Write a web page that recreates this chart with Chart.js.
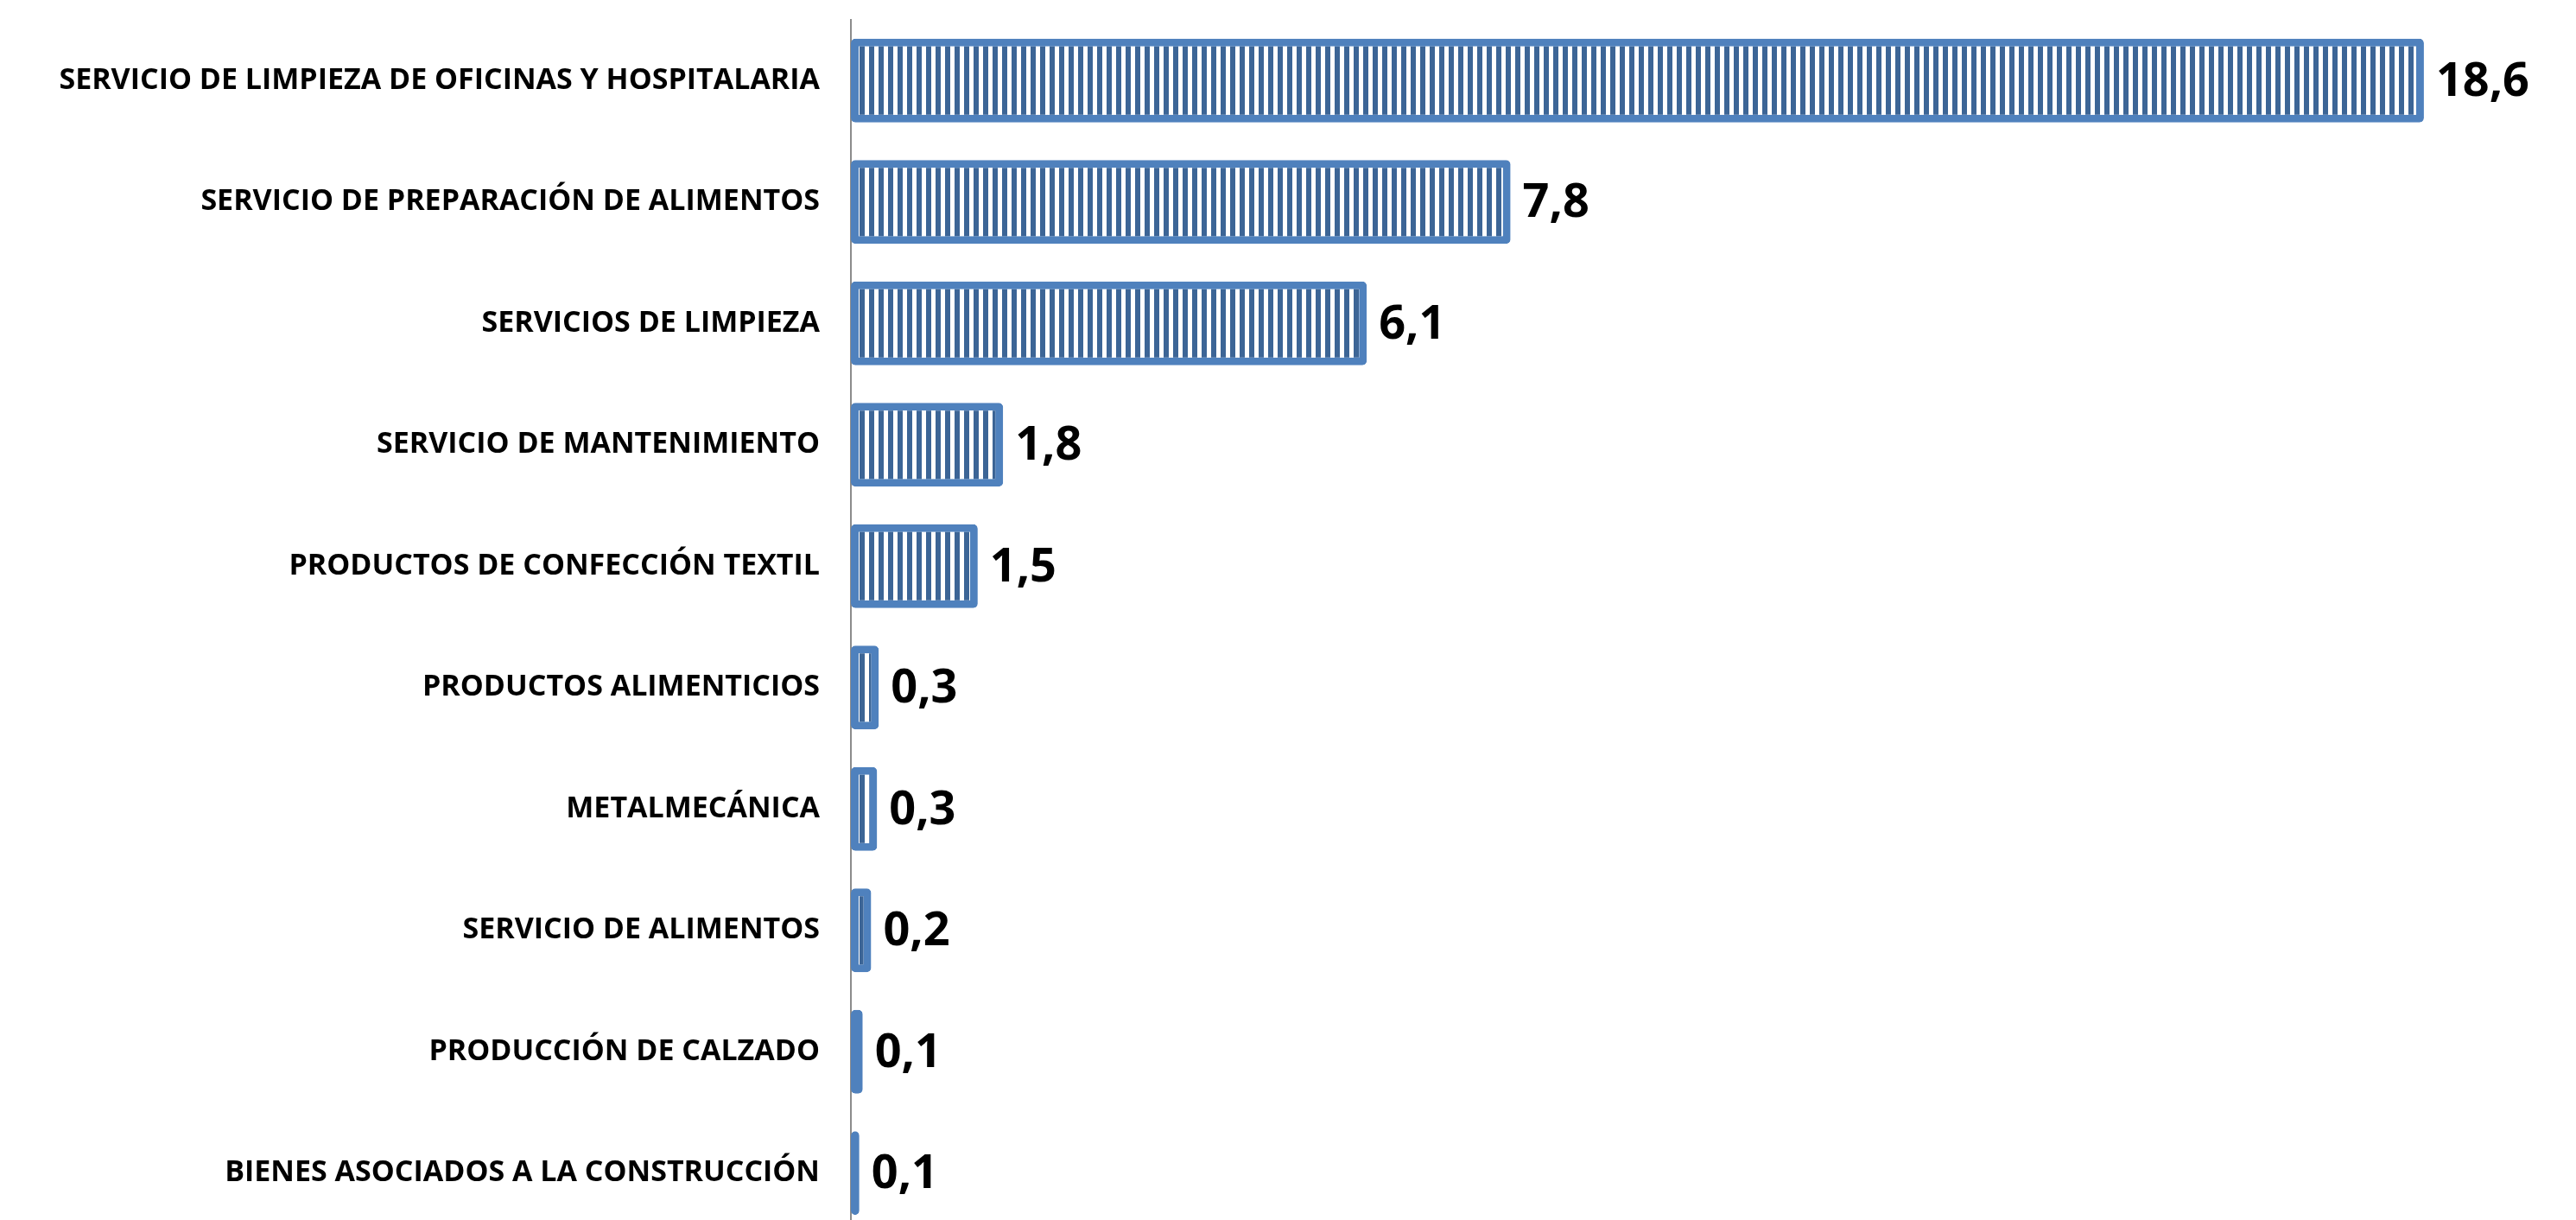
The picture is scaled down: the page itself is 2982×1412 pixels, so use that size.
<!DOCTYPE html>
<html>
<head>
<meta charset="utf-8">
<script src="https://cdn.jsdelivr.net/npm/chart.js@4/dist/chart.umd.min.js"></script>
<style>
  html, body { margin: 0; padding: 0; background: #fff; overflow: hidden; }
  #wrap { width: 2982px; height: 1428px; position: relative; }
</style>
</head>
<body>
<div id="wrap"><canvas id="chart"></canvas></div>
<script>
// --- Data ---
const categories = [
    'SERVICIO DE LIMPIEZA DE OFICINAS Y HOSPITALARIA',
    'SERVICIO DE PREPARACIÓN DE ALIMENTOS',
    'SERVICIOS DE LIMPIEZA',
    'SERVICIO DE MANTENIMIENTO',
    'PRODUCTOS DE CONFECCIÓN TEXTIL',
    'PRODUCTOS ALIMENTICIOS',
    'METALMECÁNICA',
    'SERVICIO DE ALIMENTOS',
    'PRODUCCIÓN DE CALZADO',
    'BIENES ASOCIADOS A LA CONSTRUCCIÓN'
];
// bar lengths (shown rounded to one decimal)
const values = [18.6, 7.8, 6.1, 1.8, 1.5, 0.33, 0.31, 0.24, 0.14, 0.1];
const valueTexts = ['18,6', '7,8', '6,1', '1,8', '1,5', '0,3', '0,3', '0,2', '0,1', '0,1'];

const labelFont = '"Open Sans", sans-serif';

// --- Striped fill (blue/white vertical lines) ---
function stripePattern() {
    let c = document.createElement('canvas');
    c.width = 11; c.height = 4;
    let g = c.getContext('2d');
    g.fillStyle = '#3c6596';
    g.fillRect(0, 0, 11, 4);
    g.fillStyle = '#ffffff';
    g.fillRect(0, 0, 5, 4);
    return g.createPattern(c, 'repeat');
}

// --- Value labels drawn at the bar ends ---
const valueLabels = {
    id: 'valueLabels',
    afterDatasetsDraw(chart) {
        let ctx = chart.ctx;
        let meta = chart.getDatasetMeta(0);
        ctx.save();
        ctx.font = 'bold 54px ' + labelFont;
        ctx.fillStyle = '#000';
        ctx.textAlign = 'left';
        ctx.textBaseline = 'middle';
        meta.data.forEach((bar, i) => {
            ctx.fillText(valueTexts[i], bar.x + 14, bar.y + 2);
        });
        ctx.restore();
    }
};

new Chart(document.getElementById('chart'), {
    type: 'bar',
    data: {
        labels: categories,
        datasets: [{
            data: values,
            backgroundColor: stripePattern(),
            borderColor: '#4f81bd',
            borderWidth: 9,
            borderSkipped: false,
            borderRadius: 5,
            barPercentage: 0.69,
            categoryPercentage: 1
        }]
    },
    options: {
        indexAxis: 'y',
        responsive: true,
        maintainAspectRatio: false,
        animation: false,
        layout: {padding: {top: 23, bottom: 0, right: 39, left: 0}},
        plugins: {legend: {display: false}, tooltip: {enabled: false}},
        scales: {
            x: {
                min: 0, max: 20,
                display: false
            },
            y: {
                grid: {display: false, drawTicks: false},
                border: {display: true, color: '#8c8c8c', width: 2},
                ticks: {
                    color: '#000',
                    padding: 36,
                    font: {family: labelFont, weight: 'bold', size: 34}
                },
                afterFit(scale) {
                    scale.width = 985;
                    scale.paddingTop = 0;
                    scale.paddingBottom = 0;
                }
            }
        }
    },
    plugins: [valueLabels]
});
</script>
</body>
</html>
